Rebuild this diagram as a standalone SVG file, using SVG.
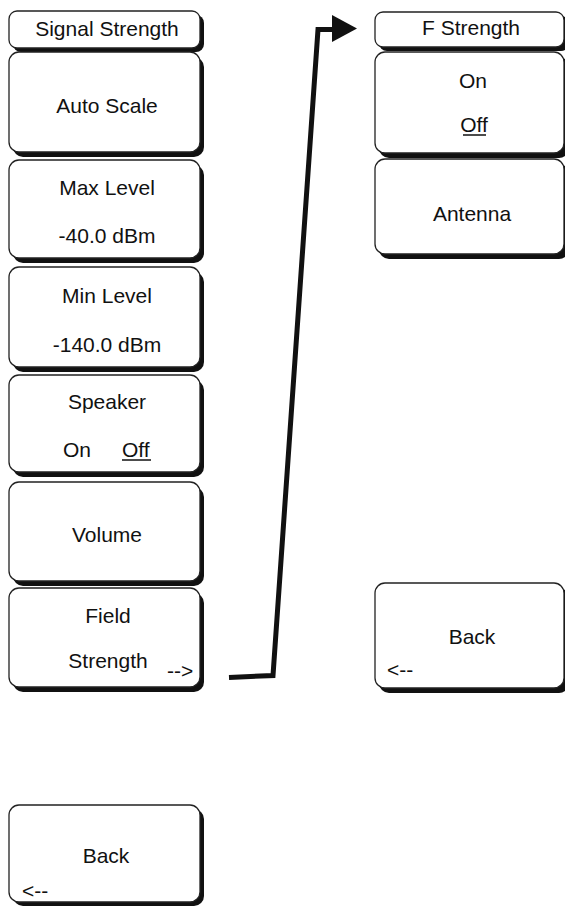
<svg xmlns="http://www.w3.org/2000/svg" width="565" height="907" viewBox="0 0 565 907">
<style>
.sh{fill:#111;}
.bx{fill:#fff;stroke:#222;stroke-width:1.3;}
text{font-family:"Liberation Sans",Arial,sans-serif;font-size:21px;fill:#111;}
.c{text-anchor:middle;}
.u{stroke:#111;stroke-width:1.5;}
.conn{fill:none;stroke:#111;stroke-width:5;stroke-linejoin:miter;}
</style>
<rect width="565" height="907" fill="#fff"/>

<g id="n-signal-strength">
<rect class="sh" x="13" y="15" width="191" height="37" rx="8"/>
<rect class="bx" x="9" y="11" width="191" height="37" rx="8"/>
<text class="c" x="107" y="36">Signal Strength</text>
</g>
<g id="n-auto-scale">
<rect class="sh" x="13" y="57" width="191" height="100" rx="10"/>
<rect class="bx" x="9" y="52" width="191" height="100" rx="10"/>
<text class="c" x="107" y="113">Auto Scale</text>
</g>
<g id="n-max-level">
<rect class="sh" x="13" y="165" width="191" height="98" rx="10"/>
<rect class="bx" x="9" y="160" width="191" height="98" rx="10"/>
<text class="c" x="107" y="195">Max Level</text>
<text class="c" x="107" y="243">-40.0 dBm</text>
</g>
<g id="n-min-level">
<rect class="sh" x="13" y="272" width="191" height="100" rx="10"/>
<rect class="bx" x="9" y="267" width="191" height="100" rx="10"/>
<text class="c" x="107" y="303">Min Level</text>
<text class="c" x="107" y="352">-140.0 dBm</text>
</g>
<g id="n-speaker">
<rect class="sh" x="13" y="380" width="191" height="97" rx="10"/>
<rect class="bx" x="9" y="375" width="191" height="97" rx="10"/>
<text class="c" x="107" y="409">Speaker</text>
<text x="63" y="457">On</text>
<text x="122" y="457">Off</text>
<line class="u" x1="122" y1="460" x2="151" y2="460"/>
</g>
<g id="n-volume">
<rect class="sh" x="13" y="487" width="191" height="99" rx="10"/>
<rect class="bx" x="9" y="482" width="191" height="99" rx="10"/>
<text class="c" x="107" y="542">Volume</text>
</g>
<g id="n-field-strength">
<rect class="sh" x="13" y="593" width="191" height="99" rx="10"/>
<rect class="bx" x="9" y="588" width="191" height="99" rx="10"/>
<text class="c" x="108" y="623">Field</text>
<text class="c" x="108" y="668">Strength</text>
<text x="167" y="678">--&gt;</text>
</g>
<g id="n-back-left">
<rect class="sh" x="13" y="809" width="191" height="97" rx="10"/>
<rect class="bx" x="9" y="805" width="191" height="97" rx="10"/>
<text class="c" x="106" y="863">Back</text>
<text x="22" y="898">&lt;--</text>
</g>

<g id="n-f-strength">
<rect class="sh" x="379" y="16" width="190" height="35" rx="8"/>
<rect class="bx" x="375" y="12" width="189" height="35" rx="8"/>
<text class="c" x="471" y="35">F Strength</text>
</g>
<g id="n-on-off">
<rect class="sh" x="379" y="57" width="190" height="101" rx="10"/>
<rect class="bx" x="375" y="52" width="189" height="101" rx="10"/>
<text class="c" x="473" y="88">On</text>
<text class="c" x="474" y="132">Off</text>
<line class="u" x1="463" y1="135" x2="486" y2="135"/>
</g>
<g id="n-antenna">
<rect class="sh" x="379" y="164" width="190" height="95" rx="10"/>
<rect class="bx" x="375" y="159" width="189" height="95" rx="10"/>
<text class="c" x="472" y="221">Antenna</text>
</g>
<g id="n-back-right">
<rect class="sh" x="379" y="588" width="190" height="105" rx="10"/>
<rect class="bx" x="375" y="583" width="189" height="105" rx="10"/>
<text class="c" x="472" y="644">Back</text>
<text x="387" y="677">&lt;--</text>
</g>

<g id="connectors">
<polyline class="conn" points="229,677.5 273,675.5 318,29.5 334,29.5"/>
<polygon points="332,15 357,28.5 332,42" fill="#111"/>
</g>
</svg>
